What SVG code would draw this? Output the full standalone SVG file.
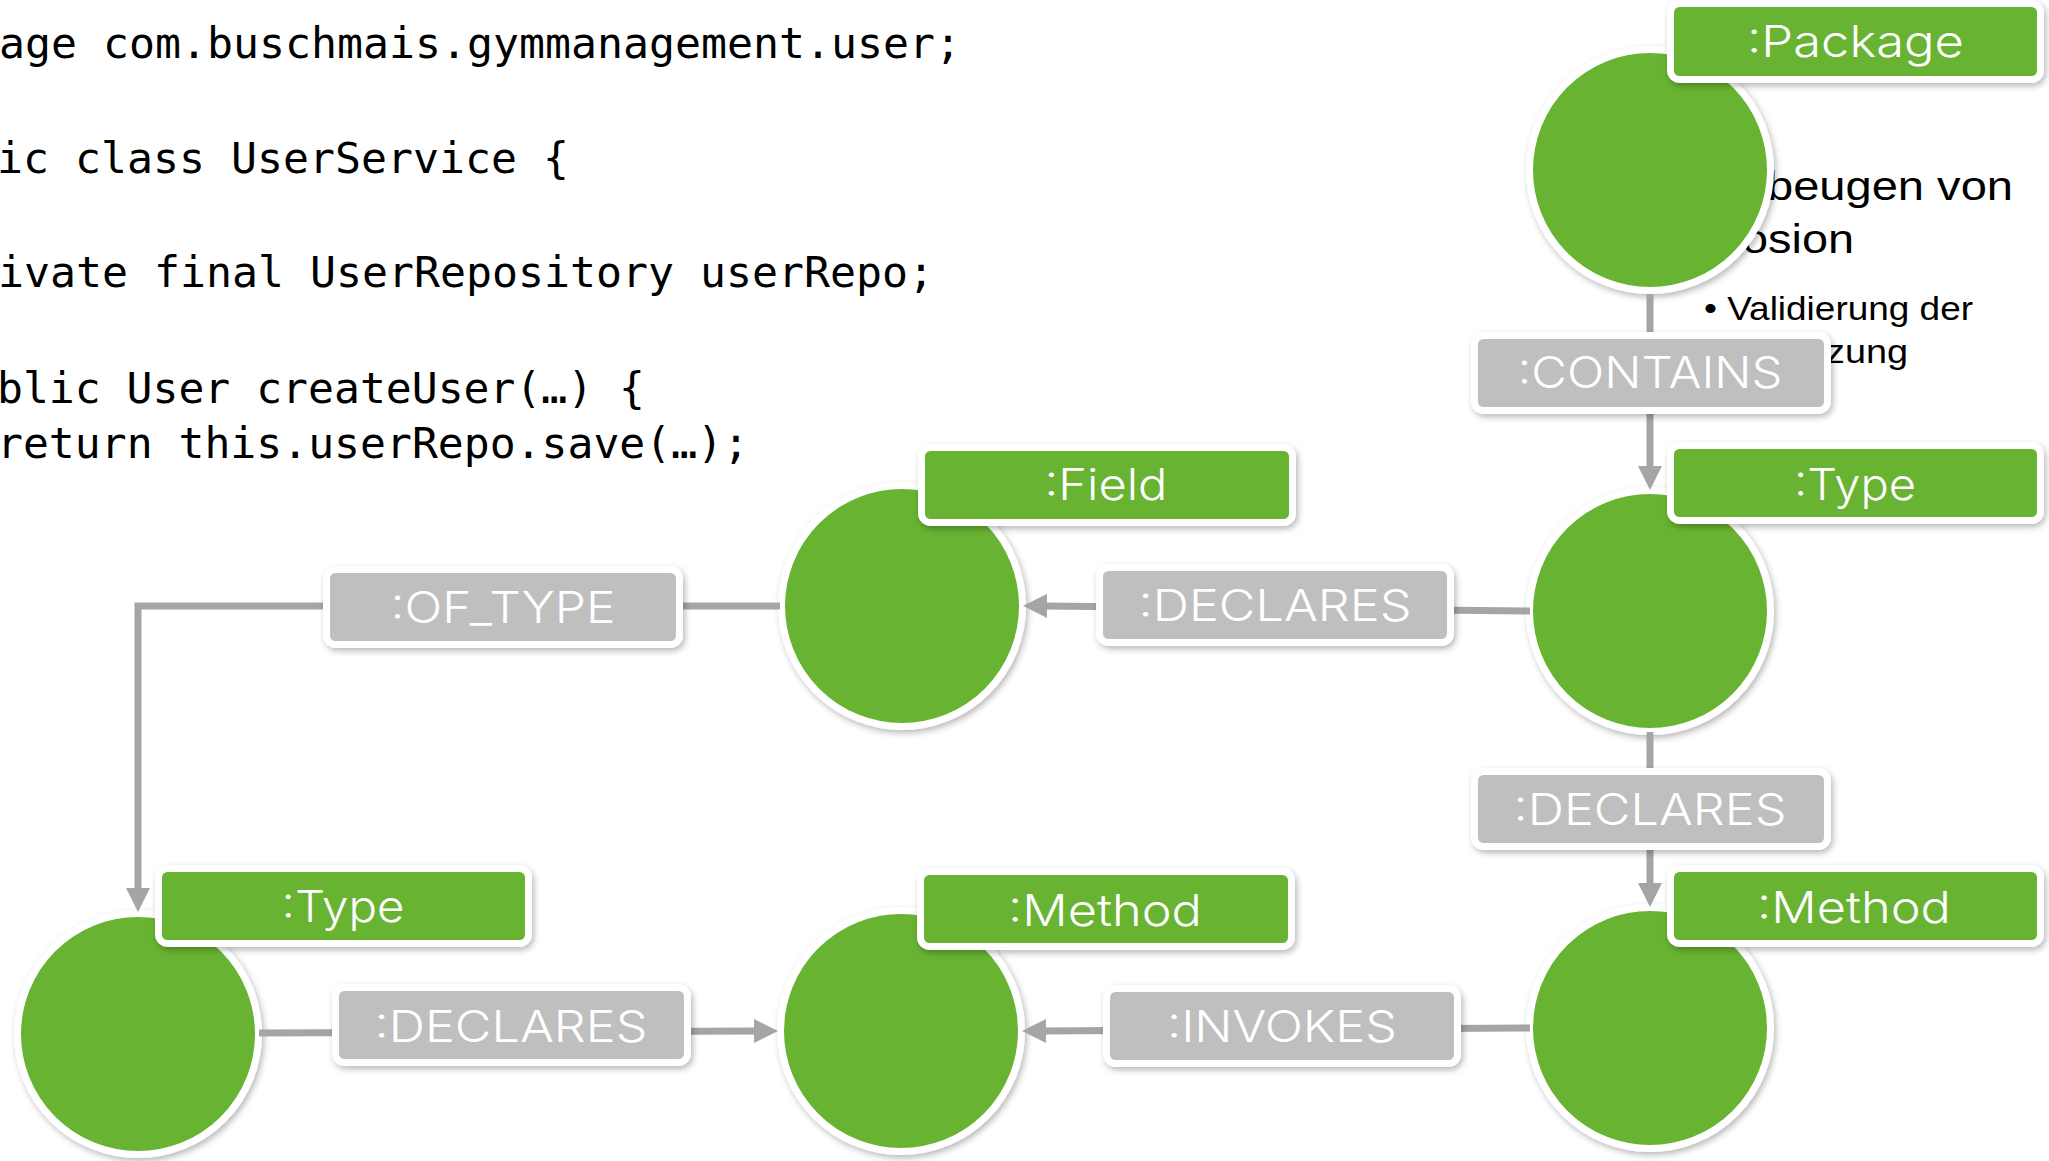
<svg xmlns="http://www.w3.org/2000/svg" width="2049" height="1161" viewBox="0 0 2049 1161">
  <defs>
    <filter id="shadow" x="-20%" y="-20%" width="140%" height="150%">
      <feDropShadow dx="2" dy="3" stdDeviation="3" flood-color="#000" flood-opacity="0.28"/>
    </filter>
    <marker id="arrow" markerUnits="userSpaceOnUse" markerWidth="26" markerHeight="26" viewBox="0 -13 26 26" refX="4" refY="0" orient="auto">
      <path d="M0,-12 L24,0 L0,12 Z" fill="#a5a5a5"/>
    </marker>
  </defs>
  <style>
    .code { font-family: "DejaVu Sans Mono", "Liberation Mono", monospace; font-size: 42px; fill: #000; }
    .slide { font-family: "Liberation Sans", "Open Sans", sans-serif; fill: #000; }
    .node-circle { fill: #67b332; stroke: #fff; stroke-width: 7; filter: url(#shadow); }
    .node-label { fill: #67b332; stroke: #fff; stroke-width: 7; filter: url(#shadow); }
    .edge-label { fill: #bfbfbf; stroke: #fff; stroke-width: 7; filter: url(#shadow); }
    .label-text { font-family: "Inter", "Lato", "Liberation Sans", sans-serif; font-weight: 300; font-size: 44px; fill: #fff; text-anchor: middle; }
    .edge { fill: none; stroke: #a5a5a5; stroke-width: 7; }
  </style>
  <rect width="2049" height="1161" fill="#fff"/>

  <!-- Java source on the left -->
  <g id="source">
    <text class="code" x="-1" y="58" textLength="962" lengthAdjust="spacingAndGlyphs">age com.buschmais.gymmanagement.user;</text>
    <text class="code" x="-3" y="173" textLength="572" lengthAdjust="spacingAndGlyphs">ic class UserService {</text>
    <text class="code" x="-2" y="287" textLength="936" lengthAdjust="spacingAndGlyphs">ivate final UserRepository userRepo;</text>
    <text class="code" x="-3" y="403" textLength="648" lengthAdjust="spacingAndGlyphs">blic User createUser(…) {</text>
    <text class="code" x="-3" y="458" textLength="752" lengthAdjust="spacingAndGlyphs">return this.userRepo.save(…);</text>
  </g>

  <!-- Bullet text partly covered by the graph -->
  <g id="bullets">
    <text class="slide" x="1767" y="200" font-size="40" textLength="246" lengthAdjust="spacingAndGlyphs">beugen von</text>
    <text class="slide" x="1742" y="253" font-size="40" textLength="112" lengthAdjust="spacingAndGlyphs">osion</text>
    <text class="slide" x="1704" y="320" font-size="34" textLength="269" lengthAdjust="spacingAndGlyphs">• Validierung der</text>
    <text class="slide" x="1826" y="363" font-size="34" textLength="82" lengthAdjust="spacingAndGlyphs">zung</text>
  </g>

  <!-- Nodes -->
  <g id="node-package">
    <circle class="node-circle" cx="1650" cy="170" r="120.5"/>
    <rect class="node-label" x="1670.5" y="3.5" width="370" height="76" rx="9"/>
    <text class="label-text" x="1855.5" y="57" textLength="217" lengthAdjust="spacingAndGlyphs">:Package</text>
  </g>
  <g id="node-type-service">
    <circle class="node-circle" cx="1650" cy="611" r="120.5"/>
    <rect class="node-label" x="1670.5" y="445.5" width="370" height="75" rx="9"/>
    <text class="label-text" x="1855" y="500" textLength="122" lengthAdjust="spacingAndGlyphs">:Type</text>
  </g>
  <g id="node-method-create">
    <circle class="node-circle" cx="1650" cy="1028" r="120.5"/>
    <rect class="node-label" x="1670.5" y="868.5" width="370" height="75" rx="9"/>
    <text class="label-text" x="1854" y="923" textLength="194" lengthAdjust="spacingAndGlyphs">:Method</text>
  </g>
  <g id="node-field">
    <circle class="node-circle" cx="902" cy="606" r="120.5"/>
    <rect class="node-label" x="921.5" y="447.5" width="371" height="75" rx="9"/>
    <text class="label-text" x="1106" y="500" textLength="123" lengthAdjust="spacingAndGlyphs">:Field</text>
  </g>
  <g id="node-method-save">
    <circle class="node-circle" cx="901" cy="1031" r="120.5"/>
    <rect class="node-label" x="920.5" y="871.5" width="371" height="75" rx="9"/>
    <text class="label-text" x="1105" y="926" textLength="194" lengthAdjust="spacingAndGlyphs">:Method</text>
  </g>
  <g id="node-type-repository">
    <circle class="node-circle" cx="138" cy="1034" r="120.5"/>
    <rect class="node-label" x="158.5" y="868.5" width="370" height="75" rx="9"/>
    <text class="label-text" x="343" y="922" textLength="123" lengthAdjust="spacingAndGlyphs">:Type</text>
  </g>

  <!-- Relationships -->
  <g id="connectors">
    <path class="edge" d="M1650,294 V470" marker-end="url(#arrow)"/>
    <path class="edge" d="M1530,611 L1043,606" marker-end="url(#arrow)"/>
    <path class="edge" d="M1650,732 V887" marker-end="url(#arrow)"/>
    <path class="edge" d="M780,606 H138 V892" marker-end="url(#arrow)"/>
    <path class="edge" d="M259,1033 L758,1031" marker-end="url(#arrow)"/>
    <path class="edge" d="M1530,1028 L1042,1031" marker-end="url(#arrow)"/>

    <g id="edge-contains">
      <rect class="edge-label" x="1474.5" y="335.5" width="353" height="75" rx="9"/>
      <text class="label-text" x="1650" y="388" textLength="265" lengthAdjust="spacingAndGlyphs">:CONTAINS</text>
    </g>
    <g id="edge-declares-field">
      <rect class="edge-label" x="1099.5" y="567.5" width="351" height="75" rx="9"/>
      <text class="label-text" x="1275" y="621" textLength="273" lengthAdjust="spacingAndGlyphs">:DECLARES</text>
    </g>
    <g id="edge-declares-method">
      <rect class="edge-label" x="1474.5" y="771.5" width="353" height="75" rx="9"/>
      <text class="label-text" x="1650" y="825" textLength="273" lengthAdjust="spacingAndGlyphs">:DECLARES</text>
    </g>
    <g id="edge-of-type">
      <rect class="edge-label" x="326.5" y="569.5" width="353" height="75" rx="9"/>
      <text class="label-text" x="503" y="623" textLength="225" lengthAdjust="spacingAndGlyphs">:OF_TYPE</text>
    </g>
    <g id="edge-declares-save">
      <rect class="edge-label" x="335.5" y="987.5" width="352" height="75" rx="9"/>
      <text class="label-text" x="511" y="1042" textLength="273" lengthAdjust="spacingAndGlyphs">:DECLARES</text>
    </g>
    <g id="edge-invokes">
      <rect class="edge-label" x="1106.5" y="988.5" width="351" height="75" rx="9"/>
      <text class="label-text" x="1282" y="1042" textLength="230" lengthAdjust="spacingAndGlyphs">:INVOKES</text>
    </g>
  </g>
</svg>
